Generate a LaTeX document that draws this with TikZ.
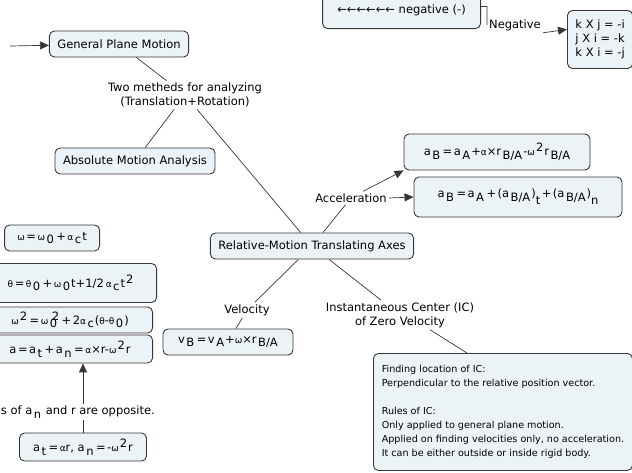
\documentclass[tikz,border=0pt]{standalone}
\usepackage{fontspec}
\setmainfont{DejaVu Sans}
\usetikzlibrary{arrows.meta}
\definecolor{boxfill}{RGB}{236,243,246}
\definecolor{boxline}{RGB}{55,55,55}
\newcommand{\lo}[1]{\hspace{1.5pt}\raisebox{-.6ex}{#1}\hspace{1pt}}
\newcommand{\hi}[1]{\hspace{1pt}\raisebox{.6ex}{#1}\hspace{1pt}}
\newcommand{\eq}{\hspace{1.5pt}=\hspace{1.5pt}}
\newcommand{\pls}{\hspace{1.5pt}+\hspace{1.5pt}}
\newcommand{\omg}{{\small ω}}
\newcommand{\alp}{{\small α}}
\newcommand{\tht}{{\small θ}}

\begin{document}
\begin{tikzpicture}[x=1pt,y=-1pt,
  every node/.style = {font=\fontsize{11.5}{14}\selectfont},
  concept/.style = {shape=rectangle, rounded corners=5pt, draw=boxline,
    line width=0.9pt, fill=boxfill, inner xsep=8pt, minimum height=26pt},
  linkname/.style = {align=center, inner sep=2pt, fill=white},
  conn/.style = {draw=boxline, line width=0.7pt},
  arr/.style = {conn, -{Triangle[length=9pt,width=8pt]}}]
  \useasboundingbox (0,0) rectangle (632,472);
  \clip (0,0) rectangle (632,472);

  \node[concept] (gpm) at (119,44) {General Plane Motion};
  \node[linkname] (tm) at (185,95) {Two metheds for analyzing\\(Translation+Rotation)};
  \node[concept] (ama) at (135,161) {Absolute Motion Analysis};
  \node[concept] (rmta) at (312,246) {Relative-Motion Translating Axes};
  \node[linkname] (lacc) at (351,198) {Acceleration};
  \node[concept, minimum height=36pt, minimum width=186pt] (ab1) at (497,152)
    {a\lo{B}\eq a\lo{A}+\alp×r\lo{B/A}-\omg\hi{2}r\lo{B/A}};
  \node[concept, minimum height=40pt, minimum width=208pt] (ab2) at (518,197)
    {a\lo{B}\eq a\lo{A}\pls(a\lo{B/A})\raisebox{-1.1ex}{t}\pls(a\lo{B/A})\raisebox{-1.1ex}{n}};
  \node[linkname] (lvel) at (247,310) {Velocity};
  \node[concept, minimum width=130pt] (vb) at (228,342) {v\lo{B}\eq v\lo{A}+\omg×r\lo{B/A}};
  \node[linkname] (lic) at (400,315) {Instantaneous Center (IC)\\of Zero Velocity};
  \node[concept, anchor=north west, align=left, minimum width=259pt,
    minimum height=117pt, inner xsep=8pt, font=\fontsize{9.6}{14}\selectfont] (icbox) at (373,353)
    {Finding location of IC:\\Perpendicular to the relative position vector.\\[14pt]
     Rules of IC:\\Only applied to general plane motion.\\
     Applied on finding velocities only, no acceleration.\\
     It can be either outside or inside rigid body.};

  \node[concept, anchor=east, minimum width=95pt] (w1) at (100,238)
    {\omg\eq\omg\lo{0}\pls\alp\lo{c}t};
  \node[concept, anchor=east, minimum height=39pt, minimum width=172pt] (th) at (157,283)
    {\tht\eq\tht\lo{0}\pls\omg\lo{0}t+1/2\,\alp\lo{c}t\hi{2}};
  \node[concept, anchor=east, minimum width=165pt] (w2) at (153,320)
    {\omg\hi{2}\eq\omg\lo{\makebox[0pt][l]{0}}\hi{2}\pls 2\alp\lo{c}(\tht-\tht\lo{0})};
  \node[concept, anchor=east, minimum height=28pt, minimum width=165pt] (acc) at (153,349)
    {a\eq a\lo{t}\pls a\lo{n}\eq\alp×r-\omg\hi{2}r};
  \node[linkname, anchor=east] (ldir) at (157,412) {Directions of a\lo{n} and r are opposite.};
  \node[concept, minimum height=28pt, minimum width=127pt] (at) at (83,447)
    {a\lo{t}\eq\alp r,\ a\lo{n}\eq-\omg\hi{2}r};

  \node[concept, anchor=south east, minimum height=36pt, minimum width=158pt] (neg) at (481,29)
    {←←←←←← negative (-)};
  \node[linkname] (lneg) at (515,25) {Negative};
  \node[concept, anchor=north west, align=left, minimum height=58pt] (kbox) at (567,10)
    {k X j = -i\\j X i = -k\\k X i = -j};

  \coordinate (in) at (10,46);
  \draw[arr] (in) -- (gpm);
  \draw[conn] (gpm) -- (tm);
  \draw[conn] (tm) -- (ama);
  \draw[conn] (tm) -- (rmta);
  \draw[conn] (rmta) -- (lacc);
  \draw[arr] ([xshift=12pt]lacc.north) -- (ab1.south west);
  \draw[arr] (lacc.east) -- (ab2.west);
  \draw[conn] (rmta) -- (lvel);
  \draw[conn] (lvel) -- (vb);
  \draw[conn] (rmta) -- (lic);
  \draw[conn] ([xshift=30pt]lic.south) -- ([xshift=94pt]icbox.north west);
  \draw[conn] (at) -- (at |- ldir.south);
  \draw[arr] (at |- ldir.north) -- (at |- acc.south);
  \draw[conn] ([yshift=4pt]neg.east) -- ++(6,0) -- (lneg.west);
  \draw[arr] (lneg.south east) -- ([yshift=10pt]kbox.west);
\end{tikzpicture}
\end{document}
